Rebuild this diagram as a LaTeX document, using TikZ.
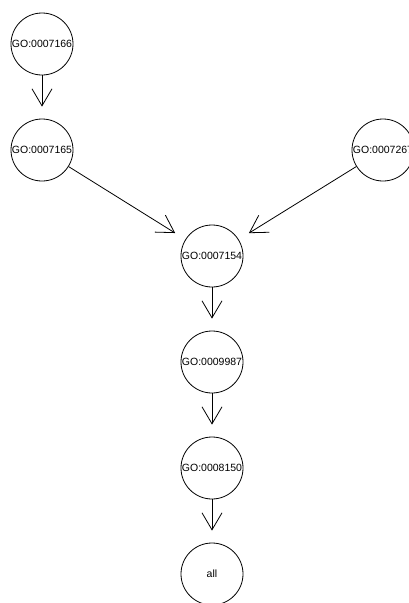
\documentclass[tikz,border=0pt]{standalone}
\usepackage{fontspec}
\setmainfont{Liberation Sans}
\usetikzlibrary{arrows.meta}
\tikzset{
  goterm/.style={draw, circle, minimum size=62pt, inner sep=0pt, line width=0.8pt,
    font=\fontsize{10.5}{10.5}\selectfont},
  isa/.style={-{Straight Barb[length=17pt,width=20pt]}, line width=0.8pt, shorten >=12pt}
}
\begin{document}
\begin{tikzpicture}[x=1pt,y=-1pt]
  \useasboundingbox (0,0) rectangle (408,603);

  % GO terms
  \foreach \name/\x/\y/\term in {go7166/42/44/GO:0007166, go7165/42/150/GO:0007165,
      go7267/383/150/GO:0007267, go7154/212/256/GO:0007154, go9987/212/362/GO:0009987,
      go8150/212/468/GO:0008150, goall/212/574/all}
    \node[goterm] (\name) at (\x,\y) {\term};

  % is-a edges
  \foreach \from/\to in {go7166/go7165, go7165/go7154, go7267/go7154,
      go7154/go9987, go9987/go8150, go8150/goall}
    \draw[isa] (\from) -- (\to);
\end{tikzpicture}
\end{document}
